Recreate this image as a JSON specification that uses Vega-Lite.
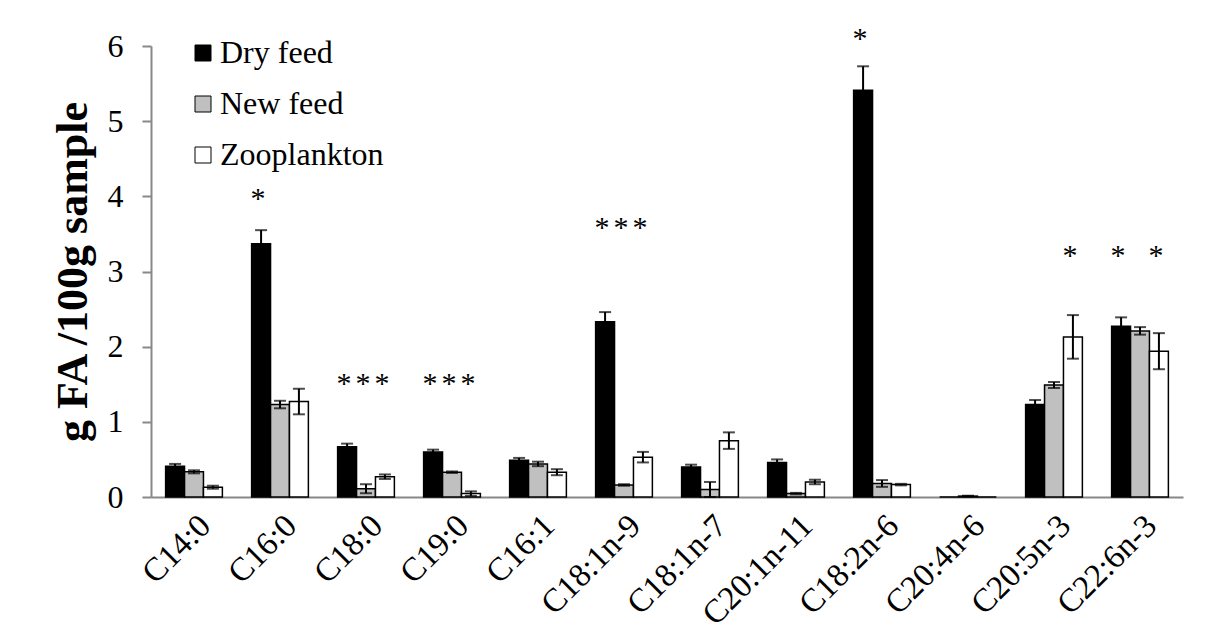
{
  "$schema": "https://vega.github.io/schema/vega-lite/v6.json",
  "width": 1032,
  "height": 451,
  "autosize": {"type": "none"},
  "padding": {"left": 151, "top": 46, "right": 26, "bottom": 144},
  "background": "white",
  "config": {"font": "Liberation Serif", "view": {"stroke": null}},
  "datasets": {
    "bars": [
      {"fa": "C14:0", "series": "Dry feed", "value": 0.41, "lo": 0.38, "hi": 0.44},
      {"fa": "C14:0", "series": "New feed", "value": 0.335, "lo": 0.315, "hi": 0.355},
      {"fa": "C14:0", "series": "Zooplankton", "value": 0.13, "lo": 0.11, "hi": 0.15},
      {"fa": "C16:0", "series": "Dry feed", "value": 3.37, "lo": 3.19, "hi": 3.55},
      {"fa": "C16:0", "series": "New feed", "value": 1.23, "lo": 1.18, "hi": 1.28},
      {"fa": "C16:0", "series": "Zooplankton", "value": 1.27, "lo": 1.1, "hi": 1.44},
      {"fa": "C18:0", "series": "Dry feed", "value": 0.67, "lo": 0.63, "hi": 0.71},
      {"fa": "C18:0", "series": "New feed", "value": 0.11, "lo": 0.05, "hi": 0.17},
      {"fa": "C18:0", "series": "Zooplankton", "value": 0.27, "lo": 0.24, "hi": 0.3},
      {"fa": "C19:0", "series": "Dry feed", "value": 0.6, "lo": 0.57, "hi": 0.63},
      {"fa": "C19:0", "series": "New feed", "value": 0.33, "lo": 0.32, "hi": 0.34},
      {"fa": "C19:0", "series": "Zooplankton", "value": 0.045, "lo": 0.015, "hi": 0.075},
      {"fa": "C16:1", "series": "Dry feed", "value": 0.49, "lo": 0.46, "hi": 0.52},
      {"fa": "C16:1", "series": "New feed", "value": 0.44, "lo": 0.41, "hi": 0.47},
      {"fa": "C16:1", "series": "Zooplankton", "value": 0.33, "lo": 0.29, "hi": 0.37},
      {"fa": "C18:1n-9", "series": "Dry feed", "value": 2.33, "lo": 2.2, "hi": 2.46},
      {"fa": "C18:1n-9", "series": "New feed", "value": 0.16, "lo": 0.15, "hi": 0.17},
      {"fa": "C18:1n-9", "series": "Zooplankton", "value": 0.53, "lo": 0.46, "hi": 0.6},
      {"fa": "C18:1n-7", "series": "Dry feed", "value": 0.4, "lo": 0.37, "hi": 0.43},
      {"fa": "C18:1n-7", "series": "New feed", "value": 0.1, "lo": 0.0, "hi": 0.2},
      {"fa": "C18:1n-7", "series": "Zooplankton", "value": 0.75, "lo": 0.64, "hi": 0.86},
      {"fa": "C20:1n-11", "series": "Dry feed", "value": 0.46, "lo": 0.42, "hi": 0.5},
      {"fa": "C20:1n-11", "series": "New feed", "value": 0.045, "lo": 0.035, "hi": 0.055},
      {"fa": "C20:1n-11", "series": "Zooplankton", "value": 0.2, "lo": 0.17, "hi": 0.23},
      {"fa": "C18:2n-6", "series": "Dry feed", "value": 5.41, "lo": 5.09, "hi": 5.73},
      {"fa": "C18:2n-6", "series": "New feed", "value": 0.18, "lo": 0.135, "hi": 0.225},
      {"fa": "C18:2n-6", "series": "Zooplankton", "value": 0.165, "lo": 0.155, "hi": 0.175},
      {"fa": "C20:4n-6", "series": "Dry feed", "value": 0},
      {"fa": "C20:4n-6", "series": "New feed", "value": 0.012, "lo": 0.007, "hi": 0.017},
      {"fa": "C20:4n-6", "series": "Zooplankton", "value": 0},
      {"fa": "C20:5n-3", "series": "Dry feed", "value": 1.23, "lo": 1.17, "hi": 1.29},
      {"fa": "C20:5n-3", "series": "New feed", "value": 1.49, "lo": 1.45, "hi": 1.53},
      {"fa": "C20:5n-3", "series": "Zooplankton", "value": 2.13, "lo": 1.84, "hi": 2.42},
      {"fa": "C22:6n-3", "series": "Dry feed", "value": 2.27, "lo": 2.15, "hi": 2.39},
      {"fa": "C22:6n-3", "series": "New feed", "value": 2.21, "lo": 2.16, "hi": 2.26},
      {"fa": "C22:6n-3", "series": "Zooplankton", "value": 1.94, "lo": 1.7, "hi": 2.18}
    ],
    "stars": [
      {"fa": "C16:0", "series": "Dry feed", "y": 4.04},
      {"fa": "C18:0", "series": "Dry feed", "y": 1.58},
      {"fa": "C18:0", "series": "New feed", "y": 1.58},
      {"fa": "C18:0", "series": "Zooplankton", "y": 1.58},
      {"fa": "C19:0", "series": "Dry feed", "y": 1.58},
      {"fa": "C19:0", "series": "New feed", "y": 1.58},
      {"fa": "C19:0", "series": "Zooplankton", "y": 1.58},
      {"fa": "C18:1n-9", "series": "Dry feed", "y": 3.66},
      {"fa": "C18:1n-9", "series": "New feed", "y": 3.66},
      {"fa": "C18:1n-9", "series": "Zooplankton", "y": 3.66},
      {"fa": "C18:2n-6", "series": "Dry feed", "y": 6.17},
      {"fa": "C20:5n-3", "series": "Zooplankton", "y": 3.28},
      {"fa": "C22:6n-3", "series": "Dry feed", "y": 3.28},
      {"fa": "C22:6n-3", "series": "Zooplankton", "y": 3.28}
    ]
  },
  "encoding": {
    "x": {
      "field": "fa",
      "type": "nominal",
      "sort": ["C14:0", "C16:0", "C18:0", "C19:0", "C16:1", "C18:1n-9", "C18:1n-7", "C20:1n-11", "C18:2n-6", "C20:4n-6", "C20:5n-3", "C22:6n-3"],
      "scale": {"paddingInner": 0.34, "paddingOuter": 0.17},
      "axis": {
        "title": null,
        "ticks": false,
        "domainColor": "#888888",
        "domainWidth": 2,
        "labelAngle": -45,
        "labelFontSize": 33,
        "labelColor": "black",
        "labelPadding": 12,
        "labelLimit": 0
      }
    },
    "xOffset": {"field": "series", "type": "nominal", "sort": ["Dry feed", "New feed", "Zooplankton"]}
  },
  "layer": [
    {
      "data": {"name": "bars"},
      "mark": {"type": "bar", "stroke": "black", "strokeWidth": 1.5},
      "encoding": {
        "y": {
          "field": "value",
          "type": "quantitative",
          "scale": {"domain": [0, 6], "nice": false},
          "axis": {
            "values": [0, 1, 2, 3, 4, 5, 6],
            "format": "d",
            "grid": false,
            "tickSize": 9,
            "tickColor": "#888888",
            "tickWidth": 2,
            "domainColor": "#888888",
            "domainWidth": 2,
            "labelFontSize": 32,
            "labelColor": "black",
            "labelPadding": 19,
            "title": "g FA /100g sample",
            "titleFontSize": 44,
            "titleFontWeight": "bold",
            "titleColor": "black",
            "titlePadding": 12
          }
        },
        "color": {
          "field": "series",
          "type": "nominal",
          "scale": {"domain": ["Dry feed", "New feed", "Zooplankton"], "range": ["black", "#c0c0c0", "white"]},
          "legend": {
            "title": null,
            "orient": "none",
            "legendX": 36,
            "legendY": -9,
            "symbolType": "square",
            "symbolSize": 256,
            "symbolStrokeColor": "black",
            "symbolStrokeWidth": 1,
            "labelFontSize": 32,
            "labelColor": "black",
            "labelOffset": 1,
            "labelLimit": 0,
            "rowPadding": 19
          }
        }
      }
    },
    {
      "data": {"name": "bars"},
      "mark": {"type": "rule", "color": "black", "strokeWidth": 2},
      "encoding": {
        "y": {"field": "lo", "type": "quantitative"},
        "y2": {"field": "hi"}
      }
    },
    {
      "data": {"name": "bars"},
      "mark": {"type": "tick", "color": "black", "thickness": 2, "size": 12},
      "encoding": {"y": {"field": "lo", "type": "quantitative"}}
    },
    {
      "data": {"name": "bars"},
      "mark": {"type": "tick", "color": "black", "thickness": 2, "size": 12},
      "encoding": {"y": {"field": "hi", "type": "quantitative"}}
    },
    {
      "data": {"name": "stars"},
      "mark": {"type": "text", "text": "*", "fontSize": 30, "color": "black", "baseline": "alphabetic", "dy": 15, "dx": -3},
      "encoding": {"y": {"field": "y", "type": "quantitative"}}
    }
  ]
}
